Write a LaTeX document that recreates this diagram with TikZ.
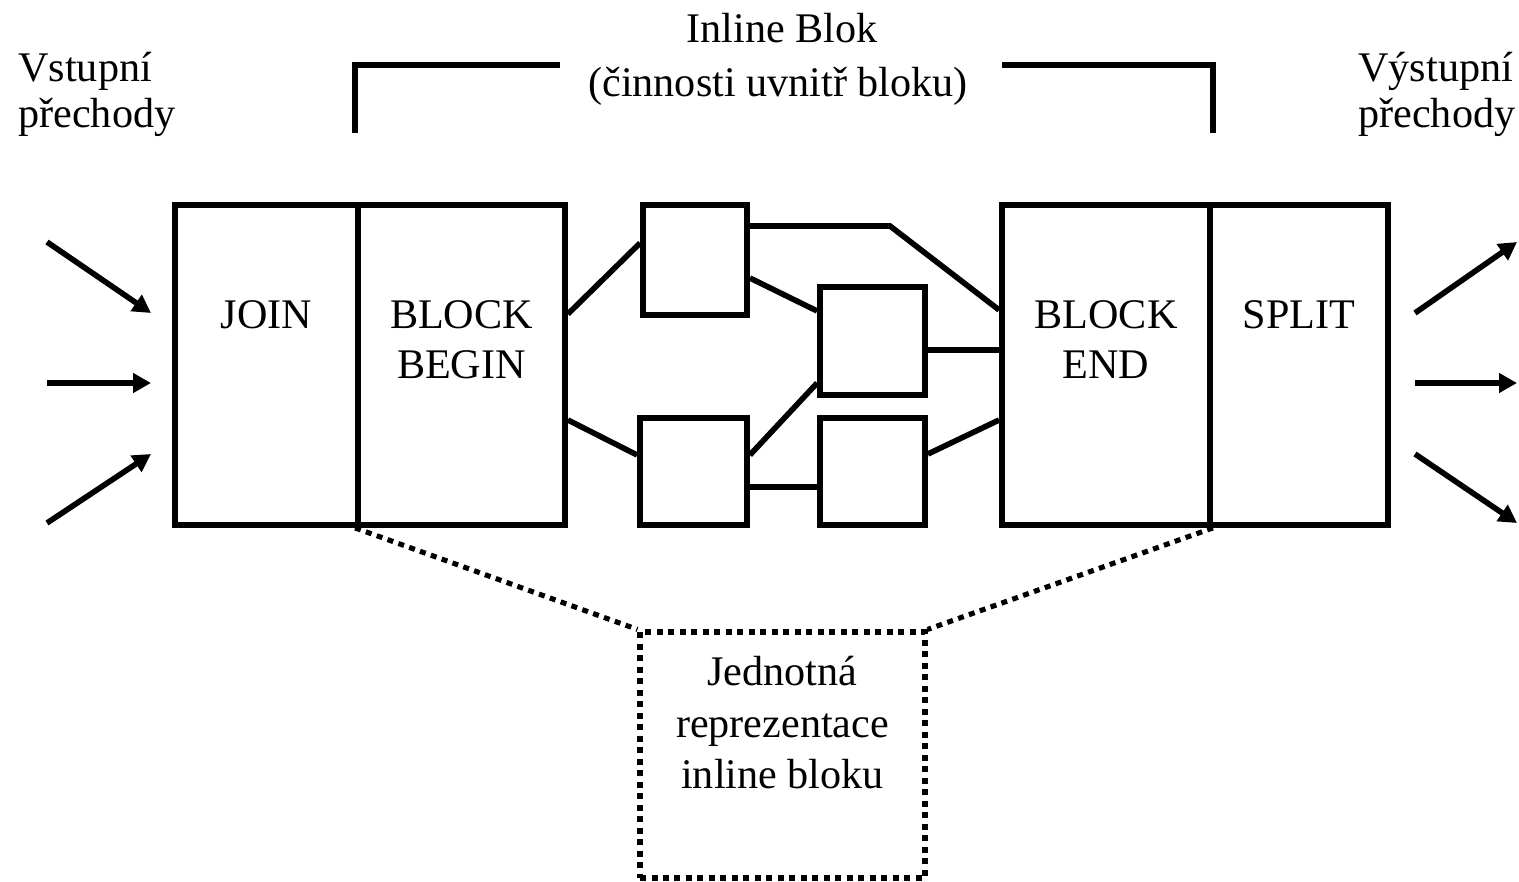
\documentclass[tikz,border=0pt]{standalone}
\usepackage{fontspec}
\setmainfont{Liberation Serif}
\usetikzlibrary{arrows.meta}
\begin{document}
\begin{tikzpicture}[x=0.02cm,y=-0.02cm,
  box/.style={draw,line width=3.3pt,rectangle,inner sep=0pt},
  wire/.style={line width=3.2pt},
  flow/.style={line width=3.2pt,-{Triangle[length=0.36cm,width=0.38cm]}},
  dots/.style={line width=2.9pt,dash pattern=on 0.12cm off 0.11cm},
  lbl/.style={font=\fontsize{24}{29}\selectfont,inner sep=0pt,anchor=base},
  lbll/.style={lbl,anchor=base west}]
\useasboundingbox (0,0) rectangle (1519,882);

% main blocks
\node[box,minimum width=183*0.02cm,minimum height=320*0.02cm] (join) at (266.5,365) {};
\node[box,minimum width=207*0.02cm,minimum height=320*0.02cm] (bbegin) at (461.5,365) {};
\node[box,minimum width=208*0.02cm,minimum height=320*0.02cm] (bend) at (1106,365) {};
\node[box,minimum width=178*0.02cm,minimum height=320*0.02cm] (split) at (1299,365) {};

% activities inside the block
\node[box,minimum width=104*0.02cm,minimum height=110*0.02cm] (a) at (695,260) {};
\node[box,minimum width=105*0.02cm,minimum height=108*0.02cm] (b) at (872.5,341) {};
\node[box,minimum width=107*0.02cm,minimum height=107*0.02cm] (c) at (693.5,471.5) {};
\node[box,minimum width=105*0.02cm,minimum height=107*0.02cm] (d) at (872.5,471.5) {};

% single representation of the inline block
\node[draw,dots,rectangle,inner sep=0pt,minimum width=285*0.02cm,minimum height=246*0.02cm] (single) at (782.5,755) {};

% block labels
\node[lbl] (tjoin) at (266.5,328) {JOIN};
\node[lbl] (tbb1) at (461.5,328) {BLOCK};
\node[lbl] (tbb2) at (461.5,378) {BEGIN};
\node[lbl] (tbe1) at (1106,328) {BLOCK};
\node[lbl] (tbe2) at (1106,378) {END};
\node[lbl] (tsplit) at (1299,328) {SPLIT};
\node[lbl] (ts1) at (782.5,685) {Jednotná};
\node[lbl] (ts2) at (782.5,737) {reprezentace};
\node[lbl] (ts3) at (782.5,788) {inline bloku};
\node[lbl] (tin1) at (782,43) {Inline Blok};
\node[lbl] (tin2) at (778,97) {(činnosti uvnitř bloku)};
\node[lbll] (tl1) at (18,82) {Vstupní};
\node[lbll] (tl2) at (18,128) {přechody};
\node[lbll] (tr1) at (1358,82) {Výstupní};
\node[lbll] (tr2) at (1358,128) {přechody};

% connections between activities
\draw[wire] (bbegin.east |- 0,314) -- (a.west |- 0,243);
\draw[wire] (bbegin.east |- 0,420) -- (c.west |- 0,455);
\draw[wire] (a.east |- 0,226) -- (890,226) -- (bend.west |- 0,310);
\draw[wire] (a.east |- 0,278) -- (b.west |- 0,311);
\draw[wire] (c.east |- 0,455) -- (b.west |- 0,383);
\draw[wire] (c.east |- 0,487) -- (d.west |- 0,487);
\draw[wire] (b.east |- 0,350) -- (bend.west |- 0,350);
\draw[wire] (d.east |- 0,454) -- (bend.west |- 0,420);

% bracket over the inline block
\coordinate (bl) at (560,65);
\coordinate (br) at (1002,65);
\draw[wire] (bbegin.north west |- 0,133) -- (bbegin.north west |- bl) -- (bl);
\draw[wire] (br) -- (bend.north east |- br) -- (bend.north east |- 0,133);

% dotted projection lines
\draw[dots] (bbegin.south west) -- (single.north west);
\draw[dots] (bend.south east) -- (single.north east);

% incoming transitions
\coordinate (i1) at (47,242);
\coordinate (i2) at (47,383);
\coordinate (i3) at (47,523);
\draw[flow] (i1) -- (151,313);
\draw[flow] (i2) -- (151,383);
\draw[flow] (i3) -- (151,454);

% outgoing transitions
\coordinate (o1) at (1517,242);
\coordinate (o2) at (1517,383);
\coordinate (o3) at (1517,523);
\draw[flow] (1415,313) -- (o1);
\draw[flow] (1415,383) -- (o2);
\draw[flow] (1415,454) -- (o3);
\end{tikzpicture}
\end{document}
